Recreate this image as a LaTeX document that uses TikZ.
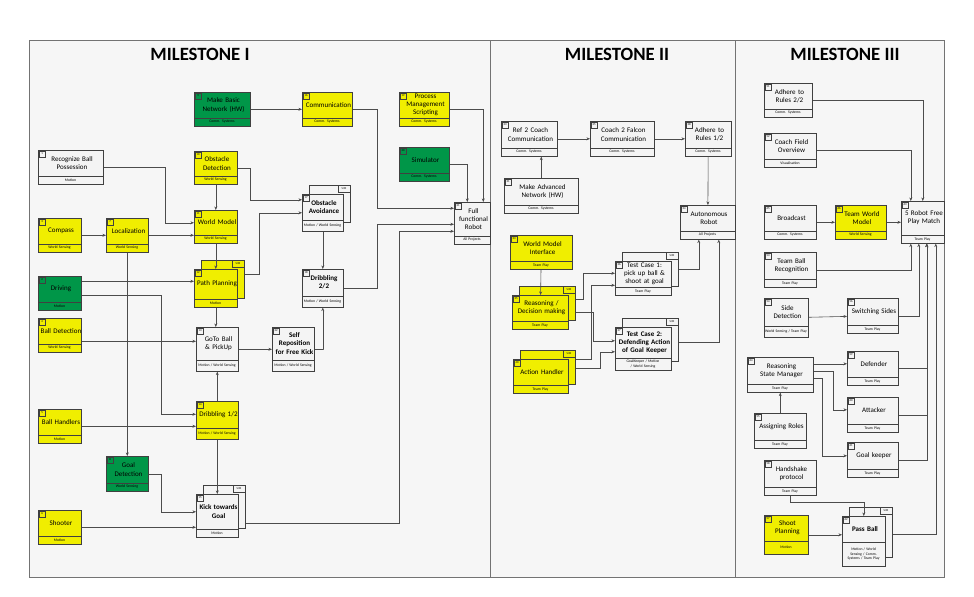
\documentclass[tikz,border=0pt]{standalone}
\usepackage{fontspec}
\setmainfont{Carlito}
\usetikzlibrary{calc,arrows.meta}

\definecolor{taskyellow}{RGB}{240,238,0}
\definecolor{taskgreen}{RGB}{0,150,72}
\definecolor{taskwhite}{RGB}{244,244,244}
\definecolor{panelgray}{RGB}{246,246,246}

\tikzset{
  box/.style={draw=black!75,line width=0.5pt,anchor=north west,inner sep=0pt},
  numtext/.style={font=\fontsize{2.5}{3}\selectfont,inner sep=0pt},
  title/.style={font=\fontsize{6}{7}\selectfont,align=center,inner sep=0pt},
  foot/.style={font=\fontsize{3.2}{3.8}\selectfont,align=center,inner sep=0pt},
  conn/.style={draw=black!70,line width=0.5pt,-{Stealth[length=3pt,width=2.5pt]}},
  panel/.style={draw=black!55,line width=0.8pt,fill=panelgray},
  heading/.style={font=\bfseries\fontsize{16}{18}\selectfont}
}

\hyphenpenalty=10000
\def\fh{8}% footer height
% #1 name, #2 fill, #3 x, #4 y, #5 w, #6 h, #7 number, #8 title, #9 footer
\newcommand\task[9]{%
  \node[box,fill=#2,minimum width=#5*0.3mm,minimum height=#6*0.3mm] (#1) at (#3,#4) {};
  \draw[black!75,line width=0.3pt] (#3,#4+#6-\fh) -- (#3+#5,#4+#6-\fh);
  \draw[black!75,line width=0.3pt] (#3+1,#4+1) rectangle (#3+7,#4+7);
  \node[numtext] at (#3+4,#4+4) {#7};
  \pgfmathsetmacro\tw{(#5-2)*0.3}
  \node[title,text width=\tw mm] at (#3+#5/2+1.5,#4+#6/2-\fh/2) {#8};
  \pgfmathsetmacro\fw{(#5-1)*0.3}
  \node[foot,text width=\fw mm] at (#3+#5/2,#4+#6-\fh/2) {#9};
}
% back copy of a task with SIM tag
\newcommand\simbox[6]{%
  \node[box,fill=#2,minimum width=#5*0.3mm,minimum height=#6*0.3mm] (#1s) at (#3+7,#4-9) {};
  \draw[black!75,line width=0.3pt] (#3+#5-5,#4-9) rectangle (#3+#5+7,#4-2);
  \node[numtext] at (#3+#5+1,#4-5.5) {SIM};
}

\begin{document}
\begin{tikzpicture}[x=0.3mm,y=-0.3mm]
  \useasboundingbox[fill=white] (0,0) rectangle (974,597);

  % panels
  \draw[panel] (29,40) rectangle (490,577);
  \draw[panel] (490,40) rectangle (735,577);
  \draw[panel] (735,40) rectangle (944,577);
  \node[heading] (m1) at (200,54) {MILESTONE I};
  \node[heading] (m2) at (617,54) {MILESTONE II};
  \node[heading] (m3) at (845,54) {MILESTONE III};

  % milestone I
  \task{basic}{taskgreen}{194}{92}{56}{34}{9}{Make Basic Network (HW)}{Comm. Systems}
  \task{comm}{taskyellow}{302}{92}{50}{34}{16}{Communication}{Comm. Systems}
  \task{proc}{taskyellow}{399}{92}{50}{34}{19}{Process Management Scripting}{Comm. Systems}
  \task{sim}{taskgreen}{399}{147}{50}{34}{20}{Simulator}{Comm. Systems}
  \task{recog}{taskwhite}{38}{150}{65}{34}{1}{Recognize Ball Possession}{Motion}
  \task{obsdet}{taskyellow}{194}{151}{43}{33}{10}{Obstacle Detection}{World Sensing}
  \def\fh{11}
  \simbox{obsav}{taskwhite}{302}{194}{41}{37}
  \task{obsav}{taskwhite}{302}{194}{41}{37}{17}{\textbf{Obstacle Avoidance}}{Motion / World Sensing}
  \def\fh{8}
  \task{full}{taskwhite}{454}{202}{36}{42}{21}{Full functional Robot}{All Projects}
  \task{compass}{taskyellow}{38}{218}{43}{34}{3}{Compass}{World Sensing}
  \task{loc}{taskyellow}{106}{218}{42}{34}{7}{Localization}{World Sensing}
  \task{wm}{taskyellow}{194}{210}{43}{33}{11}{World Model}{World Sensing}
  \task{driving}{taskgreen}{38}{276}{43}{34}{2}{Driving}{Motion}
  \simbox{path}{taskyellow}{194}{269}{43}{38}
  \task{path}{taskyellow}{194}{269}{43}{38}{12}{Path Planning}{Motion}
  \def\fh{11}
  \task{drib2}{taskwhite}{302}{269}{41}{38}{18}{\textbf{Dribbling 2/2}}{Motion / World Sensing}
  \def\fh{8}
  \task{balldet}{taskyellow}{38}{318}{43}{34}{4}{Ball Detection}{World Sensing}
  \def\fh{11}
  \task{goto}{taskwhite}{196}{327}{42}{44}{13}{GoTo Ball \& PickUp}{Motion / World Sensing}
  \task{selfrep}{taskwhite}{272}{327}{42}{44}{22}{\textbf{Self Reposition for Free Kick}}{Motion / World Sensing}
  \def\fh{8}
  \task{handlers}{taskyellow}{38}{409}{43}{34}{5}{Ball Handlers}{Motion}
  \def\fh{11}
  \task{drib1}{taskyellow}{196}{401}{42}{38}{14}{Dribbling 1/2}{Motion / World Sensing}
  \def\fh{8}
  \task{goaldet}{taskgreen}{106}{456}{42}{35}{8}{Goal Detection}{World Sensing}
  \simbox{kick}{taskwhite}{196}{494}{42}{43}
  \task{kick}{taskwhite}{196}{494}{42}{43}{15}{\textbf{Kick towards Goal}}{Motion}
  \task{shooter}{taskyellow}{38}{510}{43}{34}{6}{Shooter}{Motion}

  \draw[conn] (basic) -- (comm);
  \draw[conn] (comm.east) -- ++(25,0) |- ($(full.west)+(0,-15)$);
  \draw[conn] (proc.east) -| ($(full.north)+(11,0)$);
  \draw[conn] (sim.east) -| ($(full.north)+(-5,0)$);
  \draw[conn] (recog.east) -- ++(62,0) |- ($(wm.west)+(0,-4)$);
  \draw[conn] (obsdet) -- (wm);
  \draw[conn] (obsdet.east) -- ++(13,0) |- ($(obsav.west)+(0,-13)$);
  \draw[conn] (compass) -- (loc);
  \draw[conn] (loc.east) -- (loc.east -| wm.west);
  \draw[conn] (wm) -- (path);
  \draw[conn] ($(paths.east)+(0,-5)$) -- ++(15,0) |- (obsav.west);
  \draw[conn] (obsav) -- (drib2);
  \draw[conn] (drib2.east) -- ++(34,0) |- ($(full.west)+(0,1)$);
  \draw[conn] ($(driving.east)+(0,-12)$) coordinate (d1) -- (d1 -| path.west);
  \draw[conn] ($(driving.east)+(0,2)$) -- ++(80,0) |- ($(drib1.west)+(0,-6)$);
  \draw[conn] (loc) -- (goaldet);
  \draw[conn] ($(balldet.east)+(0,6)$) coordinate (b1) -- (b1 -| goto.west);
  \draw[conn] (path.south) -- (path.south |- goto.north);
  \draw[conn] (goto) -- (selfrep);
  \draw[conn] (selfrep.east) -- ++(9,0) -| (drib2.south);
  \draw[conn] (drib1) -- (goto);
  \draw[conn] (handlers.east) -- (handlers.east -| drib1.west);
  \draw[conn] (drib1) -- (kick.north);
  \draw[conn] (goaldet.east) -- ++(13,0) |- ($(kick.west)+(0,-4)$);
  \draw[conn] (shooter.east) -- (shooter.east -| kick.west);
  \draw[conn] ($(kicks.east)+(0,16)$) -- ++(154,0) |- ($(full.west)+(0,8)$);

  % milestone II
  \task{ref}{taskwhite}{501}{121}{56}{35}{23}{Ref 2 Coach Communication}{Comm. Systems}
  \task{falcon}{taskwhite}{590}{121}{64}{35}{25}{Coach 2 Falcon Communication}{Comm. Systems}
  \task{adh1}{taskwhite}{685}{121}{46}{35}{38}{Adhere to Rules 1/2}{Comm. Systems}
  \task{madv}{taskwhite}{504}{178}{74}{35}{31}{Make Advanced Network (HW)}{Comm. Systems}
  \task{auto}{taskwhite}{680}{205}{55}{34}{34}{Autonomous Robot}{All Projects}
  \task{wmi}{taskyellow}{510}{235}{62}{34}{33}{World Model Interface}{Team Play}
  \simbox{reason}{taskyellow}{512}{295}{56}{34}
  \task{reason}{taskyellow}{512}{295}{56}{34}{35}{Reasoning / Decision making}{Team Play}
  \simbox{act}{taskyellow}{513}{359}{55}{34}
  \task{act}{taskyellow}{513}{359}{55}{34}{40}{Action Handler}{Team Play}
  \simbox{tc1}{taskwhite}{615}{261}{56}{34}
  \task{tc1}{taskwhite}{615}{261}{56}{34}{36}{Test Case 1: pick up ball \& shoot at goal}{Team Play}
  \def\fh{12}
  \simbox{tc2}{taskwhite}{615}{327}{56}{43}
  \task{tc2}{taskwhite}{615}{327}{56}{43}{37}{\textbf{Test Case 2: Defending Action of Goal Keeper}}{GoalKeeper / Motion / World Sensing}
  \def\fh{8}

  \draw[conn] (ref) -- (falcon);
  \draw[conn] (falcon) -- (adh1);
  \draw[conn] (madv.north) -- (madv.north |- ref.south);
  \draw[conn] (adh1) -- (auto);
  \draw[conn] (wmi) -- (reason);
  \draw[conn] ($(reasons.east)+(0,-4)$) -- ++(8,0) |- ($(tc1.west)+(0,-5)$);
  \draw[conn] ($(reasons.east)+(0,9)$) -- ++(18,0) |- ($(tc2.west)+(0,-8)$);
  \draw[conn] ($(acts.east)+(0,-8)$) -- ++(16,0) |- ($(tc1.west)+(0,7)$);
  \draw[conn] ($(acts.east)+(0,1)$) -- ++(25,0) |- ($(tc2.west)+(0,3)$);
  \draw[conn] (tc1s.east) -| ($(auto.south)+(-9,0)$);
  \draw[conn] ($(tc2s.east)+(0,2)$) -| ($(auto.south)+(11,0)$);

  % milestone III
  \task{adh2}{taskwhite}{764}{83}{48}{34}{51}{Adhere to Rules 2/2}{Comm. Systems}
  \task{field}{taskwhite}{764}{133}{52}{34}{52}{Coach Field Overview}{Visualisation}
  \task{bcast}{taskwhite}{764}{205}{52}{34}{65}{Broadcast}{Comm. Systems}
  \task{twm}{taskyellow}{835}{205}{51}{34}{66}{Team World Model}{World Sensing}
  \task{robot}{taskwhite}{901}{201}{43}{42}{63}{5 Robot Free Play Match}{Team Play}
  \task{tball}{taskwhite}{764}{252}{52}{35}{53}{Team Ball Recognition}{Team Play}
  \def\fh{11}
  \task{side}{taskwhite}{764}{298}{44}{39}{54}{Side Detection}{World Sensing / Team Play}
  \def\fh{8}
  \task{switch}{taskwhite}{847}{298}{51}{35}{56}{Switching Sides}{Team Play}
  \task{rsm}{taskwhite}{747}{357}{66}{35}{64}{Reasoning State Manager}{Team Play}
  \task{defender}{taskwhite}{847}{351}{51}{34}{59}{Defender}{Team Play}
  \task{attacker}{taskwhite}{847}{397}{51}{35}{60}{Attacker}{Team Play}
  \task{assign}{taskwhite}{754}{413}{52}{35}{55}{Assigning Roles}{Team Play}
  \task{goalk}{taskwhite}{847}{442}{51}{35}{61}{Goal keeper}{Team Play}
  \task{hand}{taskwhite}{764}{460}{52}{35}{58}{Handshake protocol}{Team Play}
  \def\fh{13}
  \task{shoot}{taskyellow}{764}{515}{44}{39}{57}{Shoot Planning}{Motion}
  \def\fh{24}
  \simbox{pass}{taskwhite}{842}{516}{43}{50}
  \task{pass}{taskwhite}{842}{516}{43}{50}{62}{\textbf{Pass Ball}}{Motion / World Sensing / Comm. Systems / Team Play}
  \def\fh{8}

  \draw[conn] (adh2.east) -| (robot.north);
  \draw[conn] (field.east) -| ($(robot.north)+(-12,0)$);
  \draw[conn] (bcast) -- (twm);
  \draw[conn] (twm) -- (robot);
  \draw[conn] (tball.east) -| ($(robot.south)+(-12,0)$);
  \draw[conn] (switch.east) -| ($(robot.south)+(-4,0)$);
  \draw[conn] (defender.east) -| ($(robot.south)+(4,0)$);
  \draw[conn] (attacker.east) -| ($(robot.south)+(4,0)$);
  \draw[conn] (goalk.east) -| ($(robot.south)+(4,0)$);
  \draw[conn] ($(passs.east)+(0,2)$) -| ($(robot.south)+(13,0)$);
  \draw[conn] (side) -- (switch);
  \draw[conn] ($(rsm.east)+(0,-11)$) coordinate (r1) -- (r1 -| defender.west);
  \draw[conn] ($(rsm.east)+(0,-4)$) -- ++(20,0) |- ($(attacker.west)+(0,-5)$);
  \draw[conn] ($(rsm.east)+(0,3)$) -- ++(9,0) |- ($(goalk.west)+(0,-4)$);
  \draw[conn] (assign) -- (rsm);
  \draw[conn] (hand.south) -- ++(0,7) -| (pass.north);
  \draw[conn] (shoot.east) -- (shoot.east -| pass.west);
\end{tikzpicture}
\end{document}
